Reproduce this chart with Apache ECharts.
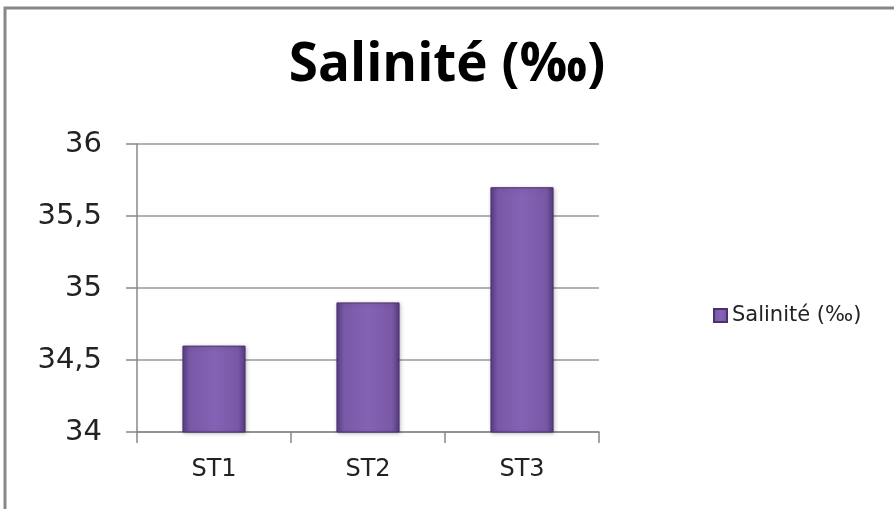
<!DOCTYPE html>
<html>
<head>
<meta charset="utf-8">
<script src="https://cdn.jsdelivr.net/npm/echarts@6/dist/echarts.min.js"></script>
<style>
  html, body { margin: 0; padding: 0; background: #fff; }
  #chart { width: 894px; height: 509px; }
</style>
</head>
<body>
<div id="chart"></div>
<script>
// données
const stations = ['ST1', 'ST2', 'ST3'];
const salinite = [34.6, 34.9, 35.7];
const seriesName = 'Salinité (‰)';

const chart = echarts.init(document.getElementById('chart'));

const barColor = new echarts.graphic.LinearGradient(0, 0, 1, 0, [
  { offset: 0, color: '#5b3d85' },
  { offset: 0.12, color: '#7a58a8' },
  { offset: 0.5, color: '#8563b4' },
  { offset: 0.88, color: '#7a58a8' },
  { offset: 1, color: '#563a7e' }
]);

chart.setOption({
  animation: false,
  title: {
    text: 'Salinité (‰)',
    left: 'center',
    top: 34,
    textStyle: {
      fontFamily: 'Open Sans',
      fontWeight: 'bold',
      fontSize: 53,
      color: '#000'
    }
  },
  legend: {
    data: [seriesName],
    left: 708,
    top: 300,
    itemWidth: 13,
    itemHeight: 13,
    itemGap: 4,
    icon: 'rect',
    textStyle: { fontFamily: 'DejaVu Sans', fontSize: 21, color: '#222' }
  },
  grid: { left: 137, right: 295, top: 144, bottom: 77 },
  xAxis: {
    type: 'category',
    data: stations,
    axisLine: { lineStyle: { color: '#888', width: 1.5 } },
    axisTick: { show: true, length: 11, lineStyle: { color: '#888', width: 1.5 } },
    axisLabel: { fontFamily: 'DejaVu Sans', fontSize: 24, color: '#222', margin: 26 }
  },
  yAxis: {
    type: 'value',
    min: 34,
    max: 36,
    interval: 0.5,
    axisLine: { show: true, lineStyle: { color: '#888', width: 1.5 } },
    axisTick: { show: true, length: 11, lineStyle: { color: '#888', width: 1.5 } },
    splitLine: { lineStyle: { color: '#999', width: 1.5 } },
    axisLabel: {
      fontFamily: 'DejaVu Sans',
      fontSize: 29,
      color: '#222',
      margin: 35,
      formatter: v => String(v).replace('.', ',')
    }
  },
  series: [{
    name: seriesName,
    type: 'bar',
    data: salinite,
    barWidth: '41%',
    itemStyle: {
      color: barColor,
      borderColor: '#4a3270',
      borderWidth: 1,
      shadowColor: 'rgba(0,0,0,0.25)',
      shadowBlur: 4,
      shadowOffsetX: 1,
      shadowOffsetY: 1
    }
  }],
  graphic: [{
    type: 'rect',
    shape: { x: 5, y: 8, width: 910, height: 520 },
    style: { fill: 'none', stroke: '#888', lineWidth: 3 },
    silent: true
  }]
});
</script>
</body>
</html>
